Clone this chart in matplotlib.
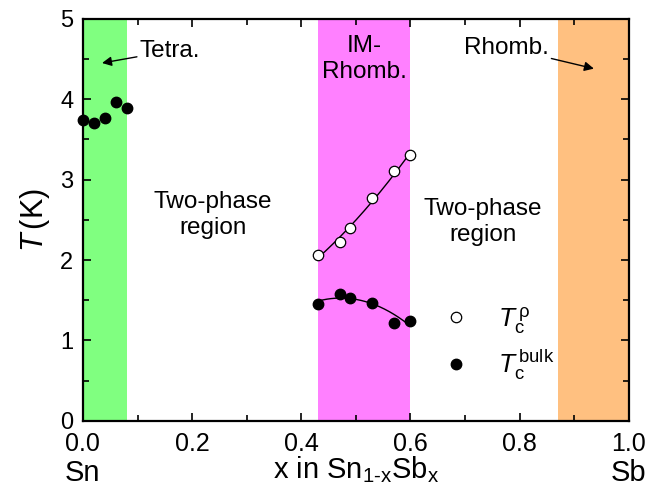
#!/usr/bin/env python3
"""Superconducting Tc across the Sn(1-x)Sb(x) phase diagram."""

import matplotlib

matplotlib.use("Agg")

import matplotlib.pyplot as plt
import numpy as np
from matplotlib.lines import Line2D

plt.rcParams["font.family"] = ["Liberation Sans", "DejaVu Sans"]
plt.rcParams["mathtext.fontset"] = "custom"
plt.rcParams["mathtext.rm"] = "Liberation Sans"
plt.rcParams["mathtext.sf"] = "Liberation Sans"
plt.rcParams["mathtext.it"] = "Liberation Sans:italic"
plt.rcParams["mathtext.bf"] = "Liberation Sans:bold"

# phase regions along x
TETRA_RANGE = (0.0, 0.08)
IM_RANGE = (0.43, 0.60)
RHOMB_RANGE = (0.87, 1.0)

# Sn-rich side, bulk Tc
x_tetra = [0.0, 0.02, 0.04, 0.06, 0.08]
tc_tetra = [3.74, 3.71, 3.76, 3.96, 3.89]

# intermediate phase
x_im = [0.43, 0.47, 0.49, 0.53, 0.57, 0.60]
tc_rho = [2.06, 2.22, 2.40, 2.77, 3.11, 3.30]
tc_bulk = [1.455, 1.58, 1.53, 1.47, 1.22, 1.24]

x_ticks = [0.0, 0.2, 0.4, 0.6, 0.8, 1.0]
y_ticks = [0, 1, 2, 3, 4, 5]

GREEN = "#80FF80"
MAGENTA = "#FF80FF"
ORANGE = "#FFC080"


def main() -> None:
    fig = plt.figure(figsize=(6.53, 4.94), dpi=100)
    ax = fig.add_axes([0.127, 0.148, 0.836, 0.814])

    ax.axvspan(*TETRA_RANGE, color=GREEN, lw=0, zorder=0)
    ax.axvspan(*IM_RANGE, color=MAGENTA, lw=0, zorder=0)
    ax.axvspan(*RHOMB_RANGE, color=ORANGE, lw=0, zorder=0)

    # smooth guides through the intermediate-phase data
    xs = np.linspace(IM_RANGE[0], IM_RANGE[1], 200)
    p_rho = np.polyfit(x_im, tc_rho, 2)
    p_bulk = np.polyfit(x_im, tc_bulk, 2)
    ax.plot(xs, np.polyval(p_rho, xs), color="black", lw=1.0, zorder=2)
    ax.plot(xs, np.polyval(p_bulk, xs), color="black", lw=1.0, zorder=2)

    ax.plot(x_tetra, tc_tetra, "o", color="black", ms=7.5, zorder=3, clip_on=False)
    ax.plot(x_im, tc_bulk, "o", color="black", ms=7.5, zorder=3)
    ax.plot(x_im, tc_rho, "o", mfc="white", mec="black", mew=0.9, ms=7.5, zorder=3)

    ax.set_xlim(0, 1.0)
    ax.set_ylim(0, 5)
    ax.set_xticks(x_ticks)
    ax.set_xticklabels([f"{t:.1f}" for t in x_ticks], fontsize=18)
    ax.set_yticks(y_ticks)
    ax.set_yticklabels([str(t) for t in y_ticks], fontsize=17)
    ax.set_xticks(np.arange(0.1, 1.0, 0.2), minor=True)
    ax.set_yticks(np.arange(0.5, 5.0, 1.0), minor=True)
    ax.tick_params(which="both", direction="in", top=True, right=True, width=1.2)
    ax.tick_params(which="major", length=6)
    ax.tick_params(which="minor", length=4)
    ax.tick_params(axis="x", pad=8)
    ax.tick_params(axis="y", pad=7)
    for spine in ax.spines.values():
        spine.set_linewidth(1.6)

    ax.set_ylabel(r"$\mathit{T}\,$(K)", fontsize=22, labelpad=6)
    ax.set_xlabel(r"x in Sn$_{\text{1-x}}$Sb$_{\text{x}}$", fontsize=21, labelpad=-1)
    ax.text(0.0, -0.094, "Sn", transform=ax.transAxes, ha="center", va="top", fontsize=21)
    ax.text(1.0, -0.094, "Sb", transform=ax.transAxes, ha="center", va="top", fontsize=21)

    ax.text(0.238, 2.56, "Two-phase\nregion", ha="center", va="center", fontsize=17.5,
            linespacing=1.25)
    ax.text(0.733, 2.47, "Two-phase\nregion", ha="center", va="center", fontsize=17.5,
            linespacing=1.25)
    ax.text(0.515, 4.5, "IM-\nRhomb.", ha="center", va="center", fontsize=17.5,
            linespacing=1.25)

    arrow = {"arrowstyle": "-|>", "color": "black", "lw": 1.0, "mutation_scale": 14,
             "shrinkA": 0, "shrinkB": 0}
    ax.annotate("Tetra.", xy=(0.035, 4.45), xytext=(0.104, 4.6), fontsize=17.5,
                ha="left", va="center", arrowprops=arrow)
    ax.annotate("Rhomb.", xy=(0.936, 4.38), xytext=(0.853, 4.64), fontsize=17.5,
                ha="right", va="center", arrowprops=arrow)

    handles = [
        Line2D([], [], ls="none", marker="o", mfc="white", mec="black", mew=0.9, ms=7.5),
        Line2D([], [], ls="none", marker="o", color="black", ms=7.5),
    ]
    labels = [r"$\mathit{T}_{\mathsf{c}}^{\,\mathsf{\rho}}$",
              r"$\mathit{T}_{\mathsf{c}}^{\,\mathsf{bulk}}$"]
    ax.legend(handles, labels, loc="upper left", bbox_to_anchor=(0.64, 0.315),
              frameon=False, fontsize=19, handlelength=1.0, handletextpad=1.1,
              labelspacing=0.45, borderaxespad=0)

    fig.savefig("out.png", dpi=100)
    plt.close(fig)


if __name__ == "__main__":
    main()
